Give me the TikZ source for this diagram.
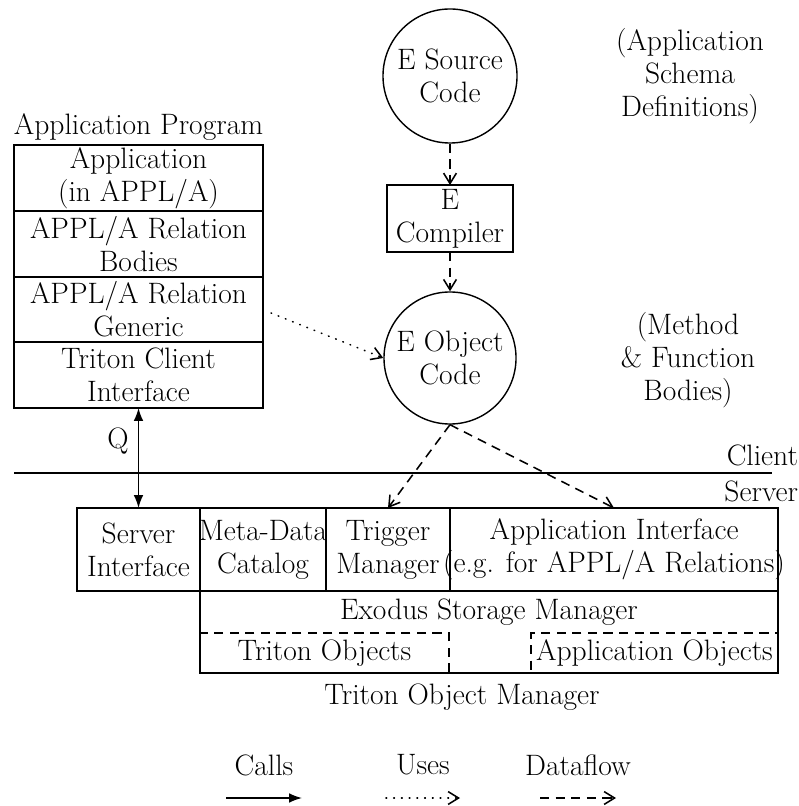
\documentclass[tikz,border=0pt]{standalone}
\usetikzlibrary{arrows.meta}
\begin{document}
\begin{tikzpicture}[x=0.025cm,y=-0.025cm,line width=1pt,
  txt/.style={font=\fontsize{21}{23.5}\selectfont,align=center,inner sep=0pt,outer sep=0pt},
  cell/.style={draw,rectangle,inner sep=0pt,outer sep=0pt},
  calls/.style={line width=1.1pt,-{Latex[length=3.2mm,width=2.4mm]}},
  callsboth/.style={line width=1.1pt,{Latex[length=3.2mm,width=2.4mm]}-{Latex[length=3.2mm,width=2.4mm]}},
  uses/.style={line width=1.1pt,dash pattern=on 0.5pt off 5pt,line cap=round,-{Straight Barb[length=2.6mm,width=3.2mm,line cap=butt]}},
  flow/.style={line width=1.1pt,dash pattern=on 2.3mm off 1.6mm,-{Straight Barb[length=2.6mm,width=3.2mm]}}
]
\useasboundingbox (0,0) rectangle (799,806);

% ---- Application program stack
\node[txt] (aptitle) at (138.5,127) {Application Program};
\node[cell,minimum width=6.225cm,minimum height=1.65cm] (app) at (138.5,178) {};
\node[txt] (appt) at (app) {Application\\(in APPL/A)};
\node[cell,minimum width=6.225cm,minimum height=1.65cm] (bod) at (138.5,244) {};
\node[txt] (bodt) at (bod) {APPL/A Relation\\Bodies};
\node[cell,minimum width=6.225cm,minimum height=1.625cm] (gen) at (138.5,309.5) {};
\node[txt] (gent) at (gen) {APPL/A Relation\\Generic};
\node[cell,minimum width=6.225cm,minimum height=1.65cm] (tci) at (138.5,375) {};
\node[txt] (tcit) at (tci) {Triton Client\\Interface};

% ---- E column
\node[draw,circle,inner sep=0pt,minimum size=3.35cm] (esrc) at (450,76) {};
\node[txt] (esrct) at (esrc) {E Source\\Code};
\node[cell,minimum width=3.15cm,minimum height=1.675cm] (ecomp) at (450,218.5) {};
\node[txt] (ecompt) at (ecomp) {E\\Compiler};
\node[draw,circle,inner sep=0pt,minimum size=3.3cm] (eobj) at (450,358) {};
\node[txt] (eobjt) at (eobj) {E Object\\Code};

\node[txt] (schema) at (690,76) {(Application\\Schema\\Definitions)};
\node[txt] (bodies) at (688,360) {(Method\\\& Function\\Bodies)};

% ---- client / server line
\coordinate (csL) at (14,473);
\coordinate (csR) at (772,473);
\draw (csL) -- (csR);
\node[txt,anchor=east] (client) at (798,455) {Client};
\node[txt,anchor=east] (server) at (798,491) {Server};

% ---- server side
\node[cell,minimum width=3.075cm,minimum height=2.075cm] (si) at (138.5,549.5) {};
\node[txt] (sit) at (si) {Server\\Interface};
\node[cell,minimum width=14.45cm,minimum height=4.125cm] (tom) at (489,590.5) {};
\node[cell,minimum width=3.15cm,minimum height=2.075cm] (md) at (263,549.5) {};
\node[txt] (mdt) at (md) {Meta-Data\\Catalog};
\node[cell,minimum width=3.1cm,minimum height=2.075cm] (tm) at (388,549.5) {};
\node[txt] (tmt) at (tm) {Trigger\\Manager};
\node[cell,minimum width=8.2cm,minimum height=2.075cm] (ai) at (614,549.5) {};
\node[txt] (ait) at (ai) {Application Interface\\(e.g. for APPL/A Relations)};
\node[txt] (esm) at (489,612) {Exodus Storage Manager};
\node[cell,dash pattern=on 2.3mm off 1.6mm,minimum width=6.225cm,minimum height=1cm] (tobj) at (324.5,653) {};
\node[txt] (tobjt) at (tobj) {Triton Objects};
\node[cell,dash pattern=on 2.3mm off 1.6mm,minimum width=6.175cm,minimum height=1cm] (aobj) at (654.5,653) {};
\node[txt] (aobjt) at (aobj) {Application Objects};
\draw (tom.south west) -- (tom.south east);
\draw (tom.north east) -- (tom.south east);
\draw (tom.north west) -- (tom.south west);
\node[txt] (tomt) at (462,697) {Triton Object Manager};

% ---- connectors
\draw[flow] (esrc.south) -- (ecomp.north);
\draw[flow] (ecomp.south) -- (eobj.north);
\coordinate (dstart) at (271,313);
\draw[uses] (dstart) -- (eobj.west);
\draw[flow] (eobj.south) -- (tm.north);
\draw[flow] (eobj.south) -- (ai.north);
\draw[callsboth] (tci.south) -- (si.north);
\node[txt] (q) at (118,441) {Q};

% ---- legend
\node[txt] (lcalls) at (264,765) {Calls};
\node[txt] (luses) at (423,765) {Uses};
\node[txt] (lflow) at (578,765) {Dataflow};
\coordinate (c1) at (226,798); \coordinate (c2) at (302,798);
\coordinate (u1) at (386,798); \coordinate (u2) at (460,798);
\coordinate (f1) at (540,798); \coordinate (f2) at (616,798);
\draw[calls] (c1) -- (c2);
\draw[uses] (u1) -- (u2);
\draw[flow] (f1) -- (f2);
\end{tikzpicture}
\end{document}
